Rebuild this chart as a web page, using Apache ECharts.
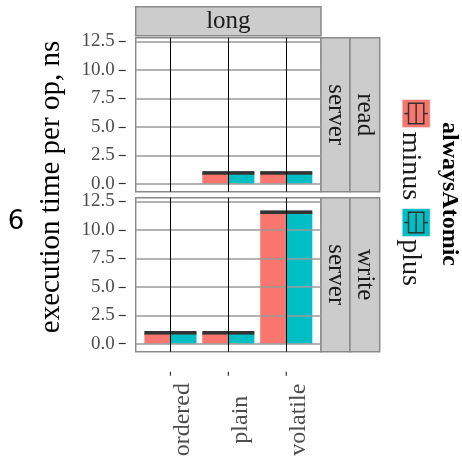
<!DOCTYPE html>
<html>
<head>
<meta charset="utf-8">
<style>html,body{margin:0;padding:0;background:#fff;}#c{width:462px;height:462px;}</style>
<script src="https://cdn.jsdelivr.net/npm/echarts@6/dist/echarts.min.js"></script>
</head>
<body>
<div id="c"></div>
<script>
// ---- data ----
const categories = ['ordered', 'plain', 'volatile'];
const readMinus  = [null, 0.95, 0.95];
const readPlus   = [null, 0.95, 0.95];
const writeMinus = [0.96, 0.96, 11.55];
const writePlus  = [0.96, 0.96, 11.55];
const yTicks = [0, 2.5, 5, 7.5, 10, 12.5];
const xTicks = [1, 2, 3];
const fillLevels = ['minus', 'plus'];
const fillColors = ['#F8766D', '#00BFC4'];
const colFacet = 'long';
const rowFacets = [['server', 'read'], ['server', 'write']];
const yTitle = 'execution time per op, ns';
const legendTitle = 'alwaysAtomic';

const SERIF = '"Liberation Serif", "DejaVu Serif", serif';
const PL = 135.7, PW = 185.3, PH = 154;
const panelTops = [37.7, 197.7];
const YMIN = -0.7, YMAX = 12.82;

function makeRender(side, color) {
  return function (params, api) {
    const v = api.value(1);
    if (v == null || isNaN(v)) return;
    const xc = api.value(0);
    const top = api.coord([xc, v]);
    const base = api.coord([xc, 0]);
    const w = api.size([0.45, 0])[0];
    const x0 = side < 0 ? top[0] - w : top[0];
    return {
      type: 'group',
      children: [
        { type: 'rect', shape: { x: x0, y: top[1], width: w, height: base[1] - top[1] }, style: { fill: color } },
        { type: 'rect', shape: { x: x0, y: top[1] - 1.8, width: w, height: 3.6 }, style: { fill: '#333333' } }
      ]
    };
  };
}

const grids = panelTops.map(t => ({
  left: PL, top: t, width: PW, height: PH,
  show: true, backgroundColor: '#ffffff', borderColor: '#8a8a8a', borderWidth: 1.5
}));

const xAxes = panelTops.map((t, i) => ({
  type: 'value', gridIndex: i, min: 0.4, max: 3.6, position: 'bottom',
  axisLine: { show: false },
  splitLine: { show: false },
  offset: 20,
  axisTick: { show: false },
  axisLabel: {
    show: i === 1, customValues: xTicks, rotate: 90, align: 'center', verticalAlign: 'top', margin: 48,
    formatter: v => categories[Math.round(v) - 1] || '',
    fontFamily: SERIF, fontSize: 24, color: '#4d4d4d'
  }
}));

const yAxes = panelTops.map((t, i) => ({
  type: 'value', gridIndex: i, min: YMIN, max: YMAX,
  axisLine: { show: false },
  splitLine: { show: false },
  offset: 10,
  axisTick: { show: true, customValues: yTicks, length: 7, lineStyle: { color: '#333', width: 1.2 } },
  axisLabel: {
    customValues: yTicks, margin: 11,
    formatter: v => v.toFixed(1),
    fontFamily: SERIF, fontSize: 19, color: '#4d4d4d'
  }
}));

const panelData = [[readMinus, readPlus], [writeMinus, writePlus]];
const series = [];
panelData.forEach((pair, i) => {
  // grid lines carrier
  series.push({
    type: 'line', xAxisIndex: i, yAxisIndex: i, data: [], z: 1, silent: true,
    markLine: {
      silent: true, symbol: 'none', animation: false, label: { show: false },
      data: yTicks.map(v => ({ yAxis: v, lineStyle: { color: '#9a9a9a', width: 1.5, type: 'solid' } }))
        .concat(xTicks.map(v => ({ xAxis: v, lineStyle: { color: '#000000', width: 1, type: 'solid' } })))
    }
  });
  pair.forEach((vals, k) => {
    series.push({
      type: 'custom', name: fillLevels[k], xAxisIndex: i, yAxisIndex: i, z: 3,
      renderItem: makeRender(k === 0 ? -1 : 1, fillColors[k]),
      data: vals.map((v, j) => [xTicks[j], v]),
      encode: { x: 0, y: 1 }
    });
  });
});
// x-axis tick marks (offset below bottom panel, as in the reference)
series.push({
  type: 'custom', xAxisIndex: 1, yAxisIndex: 1, z: 3, silent: true, clip: false,
  data: xTicks.map(v => [v, YMIN]),
  encode: { x: 0, y: 1 },
  renderItem: function (params, api) {
    const p = api.coord([api.value(0), api.value(1)]);
    return { type: 'line', shape: { x1: p[0], y1: p[1] + 20, x2: p[0], y2: p[1] + 24 }, style: { stroke: '#333333', lineWidth: 1.2 } };
  }
});

// graphics: strips, titles, legend
const graphic = [];
const STRIP_FILL = '#cccccc', STRIP_BORDER = '#8a8a8a';
graphic.push({ type: 'rect', shape: { x: PL, y: 6.7, width: PW, height: 29 }, style: { fill: STRIP_FILL, stroke: STRIP_BORDER, lineWidth: 1.5 } });
graphic.push({ type: 'text', x: PL + PW / 2, y: 21.5, style: { text: colFacet, font: '25px ' + SERIF, fill: '#1a1a1a', align: 'center', verticalAlign: 'middle' } });
const stripX = [[321, 29], [350, 29.7]];
panelTops.forEach((t, i) => {
  rowFacets[i].forEach((lab, j) => {
    graphic.push({ type: 'rect', shape: { x: stripX[j][0], y: t, width: stripX[j][1], height: PH }, style: { fill: STRIP_FILL, stroke: STRIP_BORDER, lineWidth: 1.5 } });
    graphic.push({ type: 'text', x: stripX[j][0] + stripX[j][1] / 2, y: t + PH / 2, rotation: -Math.PI / 2,
      style: { text: lab, font: '25px ' + SERIF, fill: '#1a1a1a', align: 'center', verticalAlign: 'middle' } });
  });
});
// y title
graphic.push({ type: 'text', x: 51, y: 187, rotation: Math.PI / 2,
  style: { text: yTitle, font: '29px ' + SERIF, fill: '#000', align: 'center', verticalAlign: 'middle' } });
// stray tag
graphic.push({ type: 'text', x: 16, y: 222, style: { text: '6', font: '26px "DejaVu Sans", "Liberation Sans", sans-serif', fill: '#000', align: 'center', verticalAlign: 'middle' } });
// legend title
graphic.push({ type: 'text', x: 449, y: 194, rotation: -Math.PI / 2,
  style: { text: legendTitle, font: 'bold 24px ' + SERIF, fill: '#000', align: 'center', verticalAlign: 'middle' } });
// legend keys
const keyTops = [99.3, 208.3];
const labelCenters = [166, 262.5];
fillLevels.forEach((lev, k) => {
  const kx = 402, ky = keyTops[k], kw = 28.3, kh = 28.5;
  const cy = ky + kh / 2;
  graphic.push({ type: 'rect', shape: { x: kx, y: ky, width: kw, height: kh }, style: { fill: fillColors[k], stroke: '#f2f2f2', lineWidth: 1 } });
  graphic.push({ type: 'line', shape: { x1: kx + 2.5, y1: cy, x2: kx + 6.5, y2: cy }, style: { stroke: '#333', lineWidth: 1.5 } });
  graphic.push({ type: 'line', shape: { x1: kx + kw - 6.5, y1: cy, x2: kx + kw - 2.5, y2: cy }, style: { stroke: '#333', lineWidth: 1.5 } });
  graphic.push({ type: 'rect', shape: { x: kx + 6.5, y: ky + 4, width: kw - 13, height: kh - 8 }, style: { fill: fillColors[k], stroke: '#333', lineWidth: 1.5 } });
  graphic.push({ type: 'line', shape: { x1: kx + kw / 2, y1: ky + 4, x2: kx + kw / 2, y2: ky + kh - 4 }, style: { stroke: '#333', lineWidth: 1.5 } });
  graphic.push({ type: 'text', x: 410.5, y: labelCenters[k], rotation: -Math.PI / 2,
    style: { text: lev, font: '28px ' + SERIF, fill: '#1a1a1a', align: 'center', verticalAlign: 'middle' } });
});

const chart = echarts.init(document.getElementById('c'), null, { renderer: 'canvas' });
chart.setOption({
  animation: false,
  backgroundColor: '#ffffff',
  grid: grids,
  xAxis: xAxes,
  yAxis: yAxes,
  series: series,
  graphic: graphic
});
</script>
</body>
</html>
